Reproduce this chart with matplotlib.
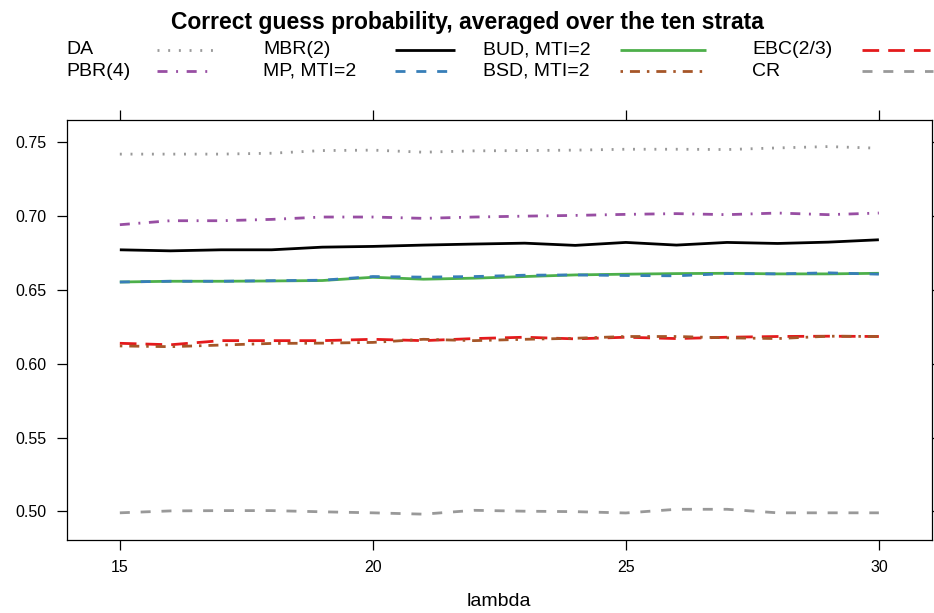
import matplotlib
matplotlib.use("Agg")
import matplotlib.pyplot as plt
from matplotlib.lines import Line2D

plt.rcParams['font.family'] = ['Liberation Sans', 'DejaVu Sans']
plt.rcParams['lines.scale_dashes'] = False

lam = list(range(15, 31))

DA = [0.7419, 0.7419, 0.7419, 0.7425, 0.7443, 0.7446, 0.7432, 0.7441,
      0.7443, 0.7446, 0.7452, 0.7452, 0.7450, 0.7461, 0.7470, 0.7459]
MBR2 = [0.6771, 0.6764, 0.6771, 0.6771, 0.6789, 0.6794, 0.6803, 0.6810,
        0.6816, 0.6801, 0.6821, 0.6803, 0.6821, 0.6814, 0.6823, 0.6839]
BUD = [0.6553, 0.6558, 0.6558, 0.6560, 0.6563, 0.6585, 0.6572, 0.6579,
       0.6590, 0.6601, 0.6606, 0.6610, 0.6612, 0.6608, 0.6608, 0.6612]
EBC = [0.6138, 0.6128, 0.6156, 0.6156, 0.6156, 0.6165, 0.6156, 0.6170,
       0.6179, 0.6168, 0.6179, 0.6170, 0.6179, 0.6184, 0.6186, 0.6184]
PBR4 = [0.6941, 0.6968, 0.6968, 0.6977, 0.6993, 0.6993, 0.6984, 0.6993,
        0.6999, 0.7004, 0.7011, 0.7016, 0.7009, 0.7020, 0.7009, 0.7020]
MP = [0.6553, 0.6558, 0.6558, 0.6562, 0.6565, 0.6590, 0.6586, 0.6590,
      0.6599, 0.6601, 0.6597, 0.6595, 0.6610, 0.6608, 0.6615, 0.6606]
BSD = [0.6120, 0.6115, 0.6126, 0.6137, 0.6139, 0.6144, 0.6165, 0.6156,
       0.6165, 0.6172, 0.6184, 0.6184, 0.6175, 0.6170, 0.6186, 0.6184]
CR = [0.4990, 0.5003, 0.5005, 0.5005, 0.4997, 0.4990, 0.4981, 0.5007,
      0.5001, 0.4998, 0.4989, 0.5014, 0.5014, 0.4990, 0.4990, 0.4990]

labels = ["DA", "MBR(2)", "BUD, MTI=2", "EBC(2/3)",
          "PBR(4)", "MP, MTI=2", "BSD, MTI=2", "CR"]
series = [DA, MBR2, BUD, EBC, PBR4, MP, BSD, CR]
colors = ["#999999", "#000000", "#4DAF4A", "#E41A1C",
          "#984EA3", "#377EB8", "#A65628", "#999999"]
dashes = [(1.4, 6.3), None, None, (12, 6.5),
          (7.2, 6.2, 1.4, 6.2), (7.2, 7.8), (1.8, 5.0, 7.2, 5.0), (7.2, 7.8)]
widths = [2.0, 2.0, 2.0, 2.0, 2.0, 2.0, 2.0, 2.0]

xticks = [15, 20, 25, 30]
yticks = [0.50, 0.55, 0.60, 0.65, 0.70, 0.75]
ytick_labels = ["0.50", "0.55", "0.60", "0.65", "0.70", "0.75"]

W, H = 934, 613
fig = plt.figure(figsize=(W / 100, H / 100), dpi=100)
ax = fig.add_axes([66.7 / W, 1 - 540 / H, (932 - 66.7) / W, (540 - 120) / H])

draw_order = [0, 4, 1, 2, 5, 3, 6, 7]
for i in draw_order:
    ln, = ax.plot(lam, series[i], color=colors[i], lw=widths[i],
                  solid_capstyle='butt')
    if dashes[i] is not None:
        ln.set_dashes(dashes[i])
        ln.set_dash_capstyle('butt')

ax.set_xlim(13.95, 31.05)
ax.set_ylim(0.4806, 0.7650)
ax.set_xticks(xticks)
ax.set_xticklabels([str(t) for t in xticks])
ax.set_yticks(yticks)
ax.set_yticklabels(ytick_labels)
ax.tick_params(axis='both', direction='out', length=7.2, width=0.9,
               labelsize=11.5, pad=7, top=True, right=True,
               labeltop=False, labelright=False)
for sp in ax.spines.values():
    sp.set_linewidth(0.9)
    sp.set_color('black')
ax.set_xlabel("lambda", fontsize=14, labelpad=13)

fig.text(0.5, 1 - 22 / H, "Correct guess probability, averaged over the ten strata",
         ha='center', va='center', fontsize=16.5, fontweight='bold')

col_text_x = [66, 263, 483, 752]
col_line_x = [(157, 214), (395, 455), (620, 706), (862, 933)]
row_y = [50, 71]
for k, lab in enumerate(labels):
    r, c = divmod(k, 4)
    y = 1 - row_y[r] / H
    fig.text(col_text_x[c] / W, y, lab, ha='left', va='center', fontsize=14)
    x0, x1 = col_line_x[c]
    ln = Line2D([x0 / W, x1 / W], [y, y], transform=fig.transFigure,
                color=colors[k], lw=widths[k], solid_capstyle='butt')
    if dashes[k] is not None:
        ln.set_dashes(dashes[k])
        ln.set_dash_capstyle('butt')
    fig.add_artist(ln)

fig.savefig("out.png", dpi=100)
